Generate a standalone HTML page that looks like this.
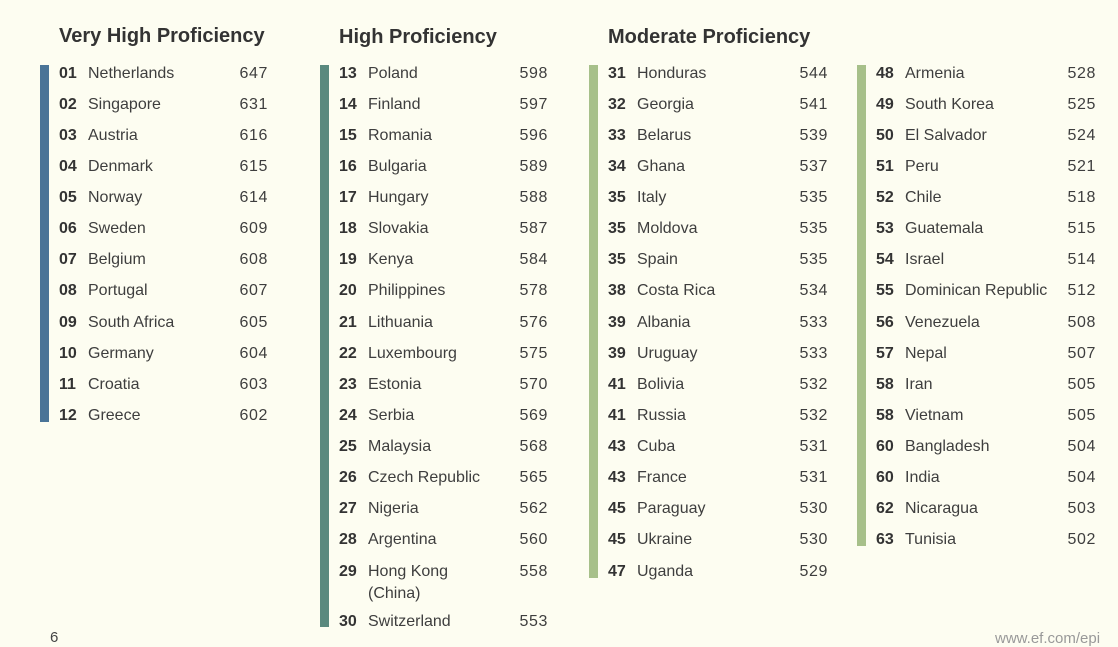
<!DOCTYPE html>
<html><head><meta charset="utf-8">
<style>
html,body{margin:0;padding:0;}
body{width:1118px;height:636px;background:#fdfdf1;position:relative;overflow:hidden;font-family:"Liberation Sans",sans-serif;color:#3a3a3a;}
.t{position:absolute;font-weight:bold;font-size:20px;color:#333;line-height:24px;white-space:nowrap;}
.bar{position:absolute;width:9px;}
.w{position:absolute;left:0;top:1px;width:1118px;height:636px;}
.r{position:absolute;height:20px;line-height:20px;font-size:16px;white-space:nowrap;}
.r b{position:absolute;left:0;top:0;font-weight:bold;color:#333;}
.r span{position:absolute;left:29px;top:0;color:#3e3e3e;}
.r i{position:absolute;right:0;top:0;font-style:normal;color:#3e3e3e;letter-spacing:0.6px;}
.c1{left:59px;width:209px;}
.c2{left:339px;width:209px;}
.c3{left:608px;width:220px;}
.c4{left:876px;width:220px;}
.foot{position:absolute;font-size:15px;color:#777;}
</style></head><body>
<div class="t" style="left:59px;top:24px;">Very High Proficiency</div>
<div class="t" style="left:339px;top:25px;">High Proficiency</div>
<div class="t" style="left:608px;top:25px;">Moderate Proficiency</div>

<div class="bar" style="left:40px;top:65px;height:357px;background:#4a7497;"></div>
<div class="bar" style="left:320px;top:65px;height:562px;background:#5a897e;"></div>
<div class="bar" style="left:589px;top:65px;height:513px;background:#a7c08a;"></div>
<div class="bar" style="left:857px;top:65px;height:481px;background:#a7c08a;"></div>

<div class="w">
<!-- col1 -->
<div class="r c1" style="top:63px"><b>01</b><span>Netherlands</span><i>647</i></div>
<div class="r c1" style="top:94px"><b>02</b><span>Singapore</span><i>631</i></div>
<div class="r c1" style="top:125px"><b>03</b><span>Austria</span><i>616</i></div>
<div class="r c1" style="top:156px"><b>04</b><span>Denmark</span><i>615</i></div>
<div class="r c1" style="top:187px"><b>05</b><span>Norway</span><i>614</i></div>
<div class="r c1" style="top:218px"><b>06</b><span>Sweden</span><i>609</i></div>
<div class="r c1" style="top:249px"><b>07</b><span>Belgium</span><i>608</i></div>
<div class="r c1" style="top:280px"><b>08</b><span>Portugal</span><i>607</i></div>
<div class="r c1" style="top:312px"><b>09</b><span>South Africa</span><i>605</i></div>
<div class="r c1" style="top:343px"><b>10</b><span>Germany</span><i>604</i></div>
<div class="r c1" style="top:374px"><b>11</b><span>Croatia</span><i>603</i></div>
<div class="r c1" style="top:405px"><b>12</b><span>Greece</span><i>602</i></div>

<!-- col2 -->
<div class="r c2" style="top:63px"><b>13</b><span>Poland</span><i>598</i></div>
<div class="r c2" style="top:94px"><b>14</b><span>Finland</span><i>597</i></div>
<div class="r c2" style="top:125px"><b>15</b><span>Romania</span><i>596</i></div>
<div class="r c2" style="top:156px"><b>16</b><span>Bulgaria</span><i>589</i></div>
<div class="r c2" style="top:187px"><b>17</b><span>Hungary</span><i>588</i></div>
<div class="r c2" style="top:218px"><b>18</b><span>Slovakia</span><i>587</i></div>
<div class="r c2" style="top:249px"><b>19</b><span>Kenya</span><i>584</i></div>
<div class="r c2" style="top:280px"><b>20</b><span>Philippines</span><i>578</i></div>
<div class="r c2" style="top:312px"><b>21</b><span>Lithuania</span><i>576</i></div>
<div class="r c2" style="top:343px"><b>22</b><span>Luxembourg</span><i>575</i></div>
<div class="r c2" style="top:374px"><b>23</b><span>Estonia</span><i>570</i></div>
<div class="r c2" style="top:405px"><b>24</b><span>Serbia</span><i>569</i></div>
<div class="r c2" style="top:436px"><b>25</b><span>Malaysia</span><i>568</i></div>
<div class="r c2" style="top:467px"><b>26</b><span>Czech Republic</span><i>565</i></div>
<div class="r c2" style="top:498px"><b>27</b><span>Nigeria</span><i>562</i></div>
<div class="r c2" style="top:529px"><b>28</b><span>Argentina</span><i>560</i></div>
<div class="r c2" style="top:561px"><b>29</b><span>Hong Kong</span><i>558</i></div>
<div class="r c2" style="top:583px"><span>(China)</span></div>
<div class="r c2" style="top:611px"><b>30</b><span>Switzerland</span><i>553</i></div>

<!-- col3 -->
<div class="r c3" style="top:63px"><b>31</b><span>Honduras</span><i>544</i></div>
<div class="r c3" style="top:94px"><b>32</b><span>Georgia</span><i>541</i></div>
<div class="r c3" style="top:125px"><b>33</b><span>Belarus</span><i>539</i></div>
<div class="r c3" style="top:156px"><b>34</b><span>Ghana</span><i>537</i></div>
<div class="r c3" style="top:187px"><b>35</b><span>Italy</span><i>535</i></div>
<div class="r c3" style="top:218px"><b>35</b><span>Moldova</span><i>535</i></div>
<div class="r c3" style="top:249px"><b>35</b><span>Spain</span><i>535</i></div>
<div class="r c3" style="top:280px"><b>38</b><span>Costa Rica</span><i>534</i></div>
<div class="r c3" style="top:312px"><b>39</b><span>Albania</span><i>533</i></div>
<div class="r c3" style="top:343px"><b>39</b><span>Uruguay</span><i>533</i></div>
<div class="r c3" style="top:374px"><b>41</b><span>Bolivia</span><i>532</i></div>
<div class="r c3" style="top:405px"><b>41</b><span>Russia</span><i>532</i></div>
<div class="r c3" style="top:436px"><b>43</b><span>Cuba</span><i>531</i></div>
<div class="r c3" style="top:467px"><b>43</b><span>France</span><i>531</i></div>
<div class="r c3" style="top:498px"><b>45</b><span>Paraguay</span><i>530</i></div>
<div class="r c3" style="top:529px"><b>45</b><span>Ukraine</span><i>530</i></div>
<div class="r c3" style="top:561px"><b>47</b><span>Uganda</span><i>529</i></div>

<!-- col4 -->
<div class="r c4" style="top:63px"><b>48</b><span>Armenia</span><i>528</i></div>
<div class="r c4" style="top:94px"><b>49</b><span>South Korea</span><i>525</i></div>
<div class="r c4" style="top:125px"><b>50</b><span>El Salvador</span><i>524</i></div>
<div class="r c4" style="top:156px"><b>51</b><span>Peru</span><i>521</i></div>
<div class="r c4" style="top:187px"><b>52</b><span>Chile</span><i>518</i></div>
<div class="r c4" style="top:218px"><b>53</b><span>Guatemala</span><i>515</i></div>
<div class="r c4" style="top:249px"><b>54</b><span>Israel</span><i>514</i></div>
<div class="r c4" style="top:280px"><b>55</b><span>Dominican Republic</span><i>512</i></div>
<div class="r c4" style="top:312px"><b>56</b><span>Venezuela</span><i>508</i></div>
<div class="r c4" style="top:343px"><b>57</b><span>Nepal</span><i>507</i></div>
<div class="r c4" style="top:374px"><b>58</b><span>Iran</span><i>505</i></div>
<div class="r c4" style="top:405px"><b>58</b><span>Vietnam</span><i>505</i></div>
<div class="r c4" style="top:436px"><b>60</b><span>Bangladesh</span><i>504</i></div>
<div class="r c4" style="top:467px"><b>60</b><span>India</span><i>504</i></div>
<div class="r c4" style="top:498px"><b>62</b><span>Nicaragua</span><i>503</i></div>
<div class="r c4" style="top:529px"><b>63</b><span>Tunisia</span><i>502</i></div>
</div>

<div class="foot" style="left:50px;top:629px;color:#444;">6</div>
<div class="foot" style="left:995px;top:630px;color:#999;">www.ef.com/epi</div>
</body></html>
